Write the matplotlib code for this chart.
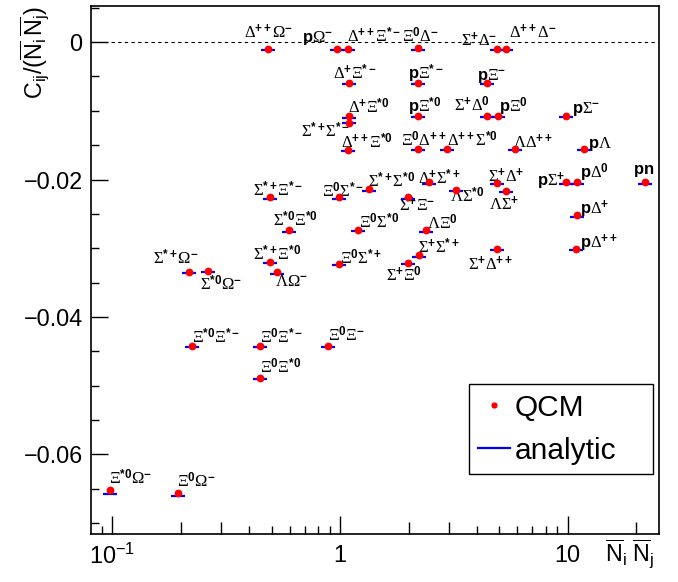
import re
import matplotlib
matplotlib.use('Agg')
import matplotlib.pyplot as plt
from matplotlib.lines import Line2D
from matplotlib.ticker import FixedLocator, FuncFormatter, MultipleLocator, NullFormatter

plt.rcParams['font.family'] = 'Liberation Sans'
plt.rcParams['mathtext.fontset'] = 'custom'
plt.rcParams['mathtext.rm'] = 'Liberation Serif'
plt.rcParams['mathtext.it'] = 'Liberation Serif:italic'
plt.rcParams['mathtext.bf'] = 'Liberation Sans:bold'
plt.rcParams['mathtext.sf'] = 'Liberation Sans'

# hadron pairs, written as in the ROOT macro (TLatex notation)
pairs = [
    "#Delta^{++}#Omega^{-}", "p#Omega^{-}", "#Delta^{++}#Xi^{*-}", "#Xi^{0}#Delta^{-}",
    "#Sigma^{+}#Delta^{-}", "#Delta^{++}#Delta^{-}",
    "#Delta^{+}#Xi^{*-}", "p#Xi^{*-}", "p#Xi^{-}",
    "#Delta^{+}#Xi^{*0}", "p#Xi^{*0}", "#Sigma^{+}#Delta^{0}", "p#Xi^{0}", "p#Sigma^{-}",
    "#Sigma^{*+}#Sigma^{*-}",
    "#Delta^{++}#Xi^{*0}", "#Xi^{0}#Delta^{++}", "#Delta^{++}#Sigma^{*0}", "#Lambda#Delta^{++}",
    "p#Lambda",
    "#Sigma^{*+}#Xi^{*-}", "#Xi^{0}#Sigma^{*-}", "#Sigma^{*+}#Sigma^{*0}", "#Delta^{+}#Sigma^{*+}",
    "#Sigma^{+}#Xi^{-}", "#Lambda#Sigma^{*0}", "#Sigma^{+}#Delta^{+}", "#Lambda#Sigma^{+}",
    "p#Sigma^{+}", "p#Delta^{0}", "pn",
    "#Sigma^{*0}#Xi^{*0}", "#Xi^{0}#Sigma^{*0}", "#Lambda#Xi^{0}", "p#Delta^{+}",
    "#Sigma^{*+}#Omega^{-}", "#Sigma^{*0}#Omega^{-}", "#Sigma^{*+}#Xi^{*0}", "#Lambda#Omega^{-}",
    "#Xi^{0}#Sigma^{*+}", "#Sigma^{+}#Sigma^{*+}", "#Sigma^{+}#Xi^{0}", "#Sigma^{+}#Delta^{++}",
    "p#Delta^{++}",
    "#Xi^{*0}#Xi^{*-}", "#Xi^{0}#Xi^{*-}", "#Xi^{0}#Xi^{-}", "#Xi^{0}#Xi^{*0}",
    "#Xi^{*0}#Omega^{-}", "#Xi^{0}#Omega^{-}",
]

# product of mean multiplicities N_i * N_j
nn = [0.481, 0.970, 1.088, 2.19, 4.88, 5.35,
      1.099, 2.21, 4.41,
      1.099, 2.21, 4.41, 4.93, 9.84,
      1.099,
      1.088, 2.19, 2.94, 5.87, 11.8,
      0.494, 0.990, 1.345, 2.46, 1.99, 3.22, 4.91, 5.36, 9.84, 10.96, 21.9,
      0.599, 1.196, 2.39, 10.96,
      0.218, 0.264, 0.494, 0.527, 0.990, 2.22, 1.98, 4.88, 10.85,
      0.223, 0.445, 0.888, 0.445,
      0.0976, 0.194]

# C_ij / (N_i N_j) from the QCM simulation
qcm = [-0.0010, -0.0010, -0.0010, -0.0009, -0.0010, -0.0010,
       -0.0059, -0.0059, -0.0059,
       -0.0108, -0.0107, -0.0107, -0.0107, -0.0107,
       -0.0117,
       -0.0157, -0.0155, -0.0155, -0.0155, -0.0155,
       -0.0226, -0.0226, -0.0214, -0.0204, -0.0226, -0.0215, -0.0205, -0.0216,
       -0.0204, -0.0204, -0.0204,
       -0.0274, -0.0273, -0.0274, -0.0252,
       -0.0334, -0.0333, -0.0320, -0.0335, -0.0323, -0.0310, -0.0321, -0.0301,
       -0.0301,
       -0.0442, -0.0442, -0.0442, -0.0488,
       -0.0652, -0.0656]

# analytic expectation
analytic = [-0.0012, -0.0012, -0.0012, -0.0011, -0.0012, -0.0012,
            -0.0061, -0.0061, -0.0061,
            -0.0110, -0.0109, -0.0109, -0.0109, -0.0109,
            -0.0118,
            -0.0159, -0.0157, -0.0157, -0.0157, -0.0157,
            -0.0228, -0.0228, -0.0216, -0.0206, -0.0228, -0.0217, -0.0207, -0.0218,
            -0.0206, -0.0206, -0.0206,
            -0.0276, -0.0275, -0.0276, -0.0254,
            -0.0336, -0.0335, -0.0322, -0.0337, -0.0325, -0.0312, -0.0323, -0.0303,
            -0.0303,
            -0.0444, -0.0444, -0.0444, -0.0490,
            -0.0658, -0.0660]

# where each name sits relative to its point (pixels, y up)
label_off = [(-24, 11), (-35, 7), (-1, 7), (-16, 6), (-36, 3), (3, 11),
             (-16, 3), (-10, 3), (-10, 3),
             (-1, 3), (-10, 3), (-33, 4), (1, 3), (6, 3),
             (-48, -15),
             (-7, 2), (-17, 2), (0, 2), (-2, 1), (4, 1),
             (-17, 1), (-17, 0), (-1, 2), (-11, -2), (-9, -14), (-6, -13), (-9, 1),
             (-17, -19), (-29, -4), (3, 4), (-12, 8),
             (-16, 4), (1, 1), (1, 1), (3, 1),
             (-36, 7), (-8, -19), (-17, 2), (-2, -14), (1, 0), (-1, 2), (-22, -19),
             (-29, -21), (4, 1),
             (0, 3), (0, 3), (0, 5), (0, 4),
             (-1, 6), (-1, 6)]


def tlatex(s):
    """Convert a ROOT TLatex pair name to mathtext."""
    out = re.sub(r'\^\{([^}]*)\}', lambda m: '^{\\mathbf{%s}}' % m.group(1), s)
    out = out.replace('#', '\\')
    if out.startswith('pn'):
        out = r'\mathbf{pn}' + out[2:]
    elif out.startswith('p'):
        out = r'\mathbf{p}' + out[1:]
    return '$' + out + '$'


fig = plt.figure(figsize=(6.78, 5.82), dpi=100)
ax = fig.add_axes([0.1342, 0.0821, 0.972 - 0.1342, 0.9902 - 0.0821])

ax.axhline(0, color='black', lw=0.8, ls=(0, (3, 3)), zorder=1)

for name, x, y, off in zip(pairs, nn, qcm, label_off):
    ax.annotate(tlatex(name), (x, y), xytext=off, textcoords='offset pixels',
                ha='left', va='baseline', fontsize=12, zorder=2)

ax.plot(nn, analytic, ls='none', marker='_', color='blue', markersize=9.5,
        markeredgewidth=1.6, zorder=3)
ax.plot(nn, qcm, ls='none', marker='o', color='red', markersize=5.6,
        markeredgewidth=0, zorder=4)

ax.set_xscale('log')
ax.set_xlim(0.0805, 25.2)
ax.set_ylim(-0.0716, 0.0053)

# ticks, ROOT style
major_x = [0.1, 0.2, 0.3, 1, 2, 3, 10, 20]
ax.xaxis.set_major_locator(FixedLocator(major_x))
ax.xaxis.set_major_formatter(FuncFormatter(
    lambda v, p: {0.1: r'$\mathdefault{10^{-1}}$', 1: '1', 10: '10'}.get(round(v, 3), '')))
ax.xaxis.set_minor_locator(FixedLocator([0.09, 0.4, 0.5, 0.6, 0.7, 0.8, 0.9,
                                         4, 5, 6, 7, 8, 9]))
ax.xaxis.set_minor_formatter(NullFormatter())
ax.yaxis.set_major_locator(MultipleLocator(0.02))
ax.yaxis.set_minor_locator(MultipleLocator(0.005))
ax.yaxis.set_major_formatter(FuncFormatter(
    lambda v, p: '0' if abs(v) < 1e-9 else ('%.2f' % v).replace('-', '\u2212')))

ax.tick_params(axis='both', which='both', direction='in', top=False, right=False,
               labelsize=16.8, width=1.0)
ax.tick_params(axis='y', which='major', length=12.2, pad=6)
ax.tick_params(axis='y', which='minor', length=5.8)
ax.tick_params(axis='x', which='major', length=8.6, pad=7)
ax.tick_params(axis='x', which='minor', length=5.8)
for t, v in zip(ax.xaxis.get_major_ticks(len(major_x)), major_x):
    if v in (0.1, 1, 10):
        t.tick1line.set_markersize(13)

for sp in ax.spines.values():
    sp.set_linewidth(1.2)

ax.set_ylabel(r'$\mathsf{C_{ij}/(\overline{N}_{i}\,\overline{N}_{j})}$', fontsize=16.8,
              loc='top')
ax.yaxis.set_label_coords(-0.068, 1.0)
ax.set_xlabel(r'$\mathsf{\overline{N}_{i}\ \overline{N}_{j}}$', fontsize=16.8, loc='right')
ax.xaxis.label.set_va('baseline')
ax.xaxis.set_label_coords(0.99, -0.053)

handles = [Line2D([], [], ls='none', marker='o', color='red', markersize=4.5,
                  markeredgewidth=0),
           Line2D([], [], color='blue', lw=1.6)]
leg = ax.legend(handles, ['QCM', 'analytic'], loc='lower left',
                bbox_to_anchor=(0.665, 0.1136, 0.3244, 0.17), mode='expand',
                fontsize=21.5, frameon=True, fancybox=False, framealpha=1,
                edgecolor='black', borderpad=0.32, labelspacing=0.5,
                handlelength=1.05, handletextpad=0.17, borderaxespad=0)
leg.get_frame().set_linewidth(1.0)

fig.savefig('out.png', dpi=100)
